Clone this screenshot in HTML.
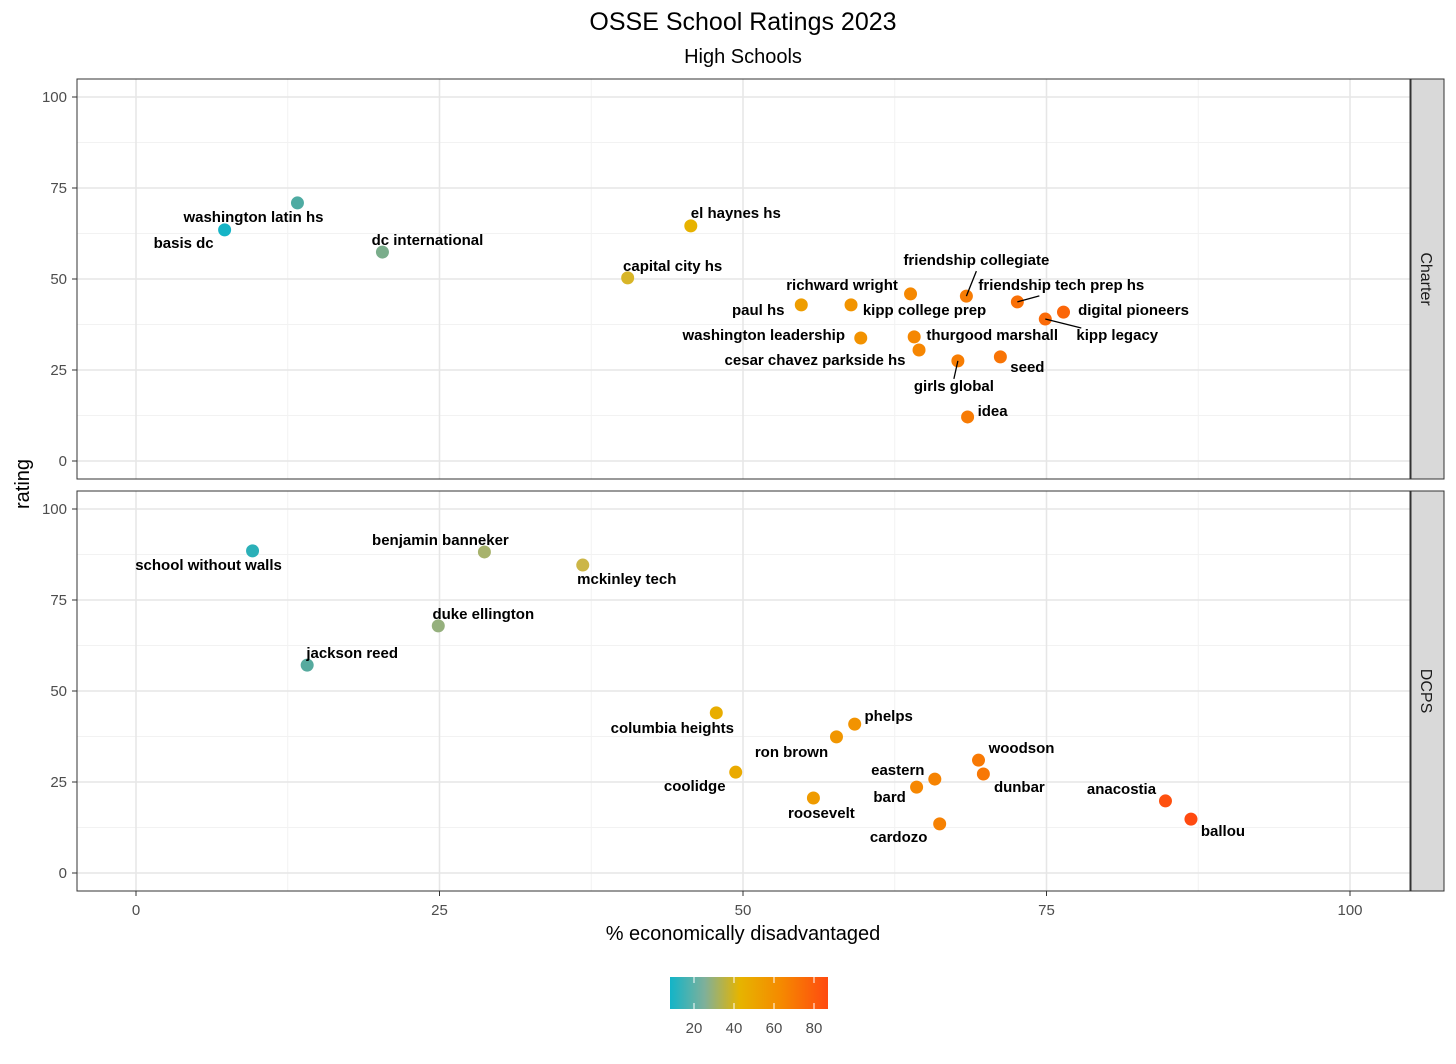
<!DOCTYPE html>
<html><head><meta charset="utf-8">
<style>
body{margin:0;background:#fff;}
svg text{font-family:"Liberation Sans",Arial,sans-serif;}
</style></head>
<body>
<svg id="chart" width="1456" height="1059" viewBox="0 0 1456 1059" xmlns="http://www.w3.org/2000/svg">
<defs>
<linearGradient id="cg" x1="0" x2="1" y1="0" y2="0">
<stop offset="0" stop-color="#12b4c8"/>
<stop offset="0.22" stop-color="#7fb09a"/>
<stop offset="0.44" stop-color="#e6b400"/>
<stop offset="0.7" stop-color="#f58a00"/>
<stop offset="1" stop-color="#ff4a10"/>
</linearGradient>
</defs>
<text x="743" y="30" text-anchor="middle" font-size="25" fill="#000">OSSE School Ratings 2023</text>
<text x="743" y="63" text-anchor="middle" font-size="20" fill="#000">High Schools</text>
<text x="743" y="940" text-anchor="middle" font-size="20" fill="#000">% economically disadvantaged</text>
<text transform="translate(29,484) rotate(-90)" text-anchor="middle" font-size="20" fill="#000">rating</text>
<g id="panels"></g>
<rect x="670" y="977" width="158" height="32" fill="url(#cg)"/>
<g id="cbticks"></g>
</svg>
<script>
const xTicks=[0,25,50,75,100];
const yTicks=[0,25,50,75,100];
const charterNames=["basis dc","washington latin hs","dc international","el haynes hs","capital city hs","paul hs","richward wright","kipp college prep","washington leadership","thurgood marshall","cesar chavez parkside hs","friendship collegiate","friendship tech prep hs","digital pioneers","kipp legacy","girls global","seed","idea"];
const charterX=[7.3,13.3,20.3,45.7,40.5,54.8,58.9,63.8,59.7,64.1,64.5,68.4,72.6,76.4,74.9,67.7,71.2,68.5];
const charterY=[63.5,70.9,57.4,64.6,50.3,42.9,42.9,45.9,33.8,34.1,30.5,45.3,43.7,40.9,39.0,27.5,28.6,12.1];
const dcpsNames=["school without walls","benjamin banneker","mckinley tech","duke ellington","jackson reed","columbia heights","phelps","ron brown","coolidge","eastern","bard","roosevelt","woodson","dunbar","cardozo","anacostia","ballou"];
const dcpsX=[9.6,28.7,36.8,24.9,14.1,47.8,59.2,57.7,49.4,65.8,64.3,55.8,69.4,69.8,66.2,84.8,86.9];
const dcpsY=[88.5,88.2,84.6,67.9,57.1,44.0,40.9,37.4,27.7,25.8,23.6,20.6,31.0,27.2,13.5,19.8,14.8];
const cbTicks=[20,40,60,80];
// label offsets (layout, px) and leader-line flags
const charterDX=[-41,-44,45,45,45,-43,-9,14,-97,78,-104,10,44,70,72,-4,27,25];
const charterDY=[13,14,-12,-13,-12,5,-20,16,-3,-2,10,-36,-17,-2,16,25,10,-6];
const charterSeg=[0,0,0,0,0,0,0,0,0,0,0,1,1,0,1,1,0,0];
const dcpsDX=[-44,-44,44,45,45,-44,34,-45,-41,-37,-27,8,43,36,-41,-44,32];
const dcpsDY=[14,-12,14,-12,-12,15,-8,15,14,-9,10,15,-12,13,13,-12,12];

const NS="http://www.w3.org/2000/svg";
const PX0=77,PX1=1410;
const sx=v=>136+v*12.14;
function mk(tag,attrs,parent){const e=document.createElementNS(NS,tag);for(const k in attrs)e.setAttribute(k,attrs[k]);parent.appendChild(e);return e;}
function colorOf(v){
  const stops=[[7,[18,180,200]],[14,[85,170,158]],[25,[150,176,125]],[37,[205,182,70]],[45,[230,180,0]],[63,[245,138,0]],[87,[255,74,16]]];
  if(v<=stops[0][0])return `rgb(${stops[0][1]})`;
  for(let i=1;i<stops.length;i++){if(v<=stops[i][0]){const a=stops[i-1],b=stops[i];const t=(v-a[0])/(b[0]-a[0]);const c=a[1].map((x,j)=>Math.round(x+(b[1][j]-x)*t));return `rgb(${c})`;}}
  return `rgb(${stops[stops.length-1][1]})`;
}
const panels=document.getElementById('panels');
function panel(top,name,strip,names,xs,ys,dxs,dys,segs){
  const g=mk('g',{},panels);
  
  
  const y0=top+18,sy=v=>y0+364-v*3.64;
  mk('rect',{x:PX0,y:top,width:PX1-PX0,height:400,fill:'#fff'},g);
  for(let v=12.5;v<100;v+=25){mk('line',{x1:sx(v),x2:sx(v),y1:top,y2:top+400,stroke:'#f2f2f2','stroke-width':1},g);mk('line',{x1:PX0,x2:PX1,y1:sy(v),y2:sy(v),stroke:'#f2f2f2','stroke-width':1},g);}
  xTicks.forEach(v=>mk('line',{x1:sx(v),x2:sx(v),y1:top,y2:top+400,stroke:'#e6e6e6','stroke-width':1.5},g));
  yTicks.forEach(v=>{mk('line',{x1:PX0,x2:PX1,y1:sy(v),y2:sy(v),stroke:'#e6e6e6','stroke-width':1.5},g);
    const t=mk('text',{x:67,y:sy(v)+5,'text-anchor':'end','font-size':15,fill:'#4d4d4d'},g);t.textContent=v;
    
    mk('line',{x1:72,x2:77,y1:sy(v),y2:sy(v),stroke:'#333'},g);});
  mk('rect',{x:PX0,y:top,width:PX1-PX0,height:400,fill:'none',stroke:'#333','stroke-width':1},g);
  const s=mk('rect',{x:1411,y:top,width:33,height:400,fill:'#d9d9d9',stroke:'#333','stroke-width':1},g);
  
  const st=mk('text',{transform:`translate(1421,${top+200}) rotate(90)`,'text-anchor':'middle','font-size':16,fill:'#1a1a1a'},g);st.textContent=strip;
  
  names.forEach((n,i)=>{
    const cx=sx(xs[i]),cy=sy(ys[i]);
    const c=mk('circle',{cx:cx,cy:cy,r:6.5,fill:colorOf(xs[i])},g);
    
    
    const lx=cx+dxs[i],ly=cy+dys[i]+5;
    if(segs&&segs[i]){mk('line',{x1:cx,y1:cy,x2:lx+(dxs[i]>30?-dxs[i]*0.5:0),y2:ly+(dys[i]<0?6:-12),stroke:'#000','stroke-width':1.3},g);}
    const t=mk('text',{x:lx,y:ly,'text-anchor':'middle','font-size':15,'font-weight':'bold',fill:'#000'},g);
    t.textContent=n;
    
    
  });
}
panel(79,'charter','Charter',charterNames,charterX,charterY,charterDX,charterDY,charterSeg);
panel(491,'dcps','DCPS',dcpsNames,dcpsX,dcpsY,dcpsDX,dcpsDY,null);
xTicks.forEach(v=>{
  mk('line',{x1:sx(v),x2:sx(v),y1:891,y2:896,stroke:'#333'},panels);
  const t=mk('text',{x:sx(v),y:915,'text-anchor':'middle','font-size':15,fill:'#4d4d4d'},panels);t.textContent=v;
  
});
const cb=document.getElementById('cbticks');
cbTicks.forEach(v=>{
  const x=670+(v-8)*2;
  mk('line',{x1:x,x2:x,y1:977,y2:983,stroke:'#fff'},cb);
  mk('line',{x1:x,x2:x,y1:1003,y2:1009,stroke:'#fff'},cb);
  const t=mk('text',{x:x,y:1033,'text-anchor':'middle','font-size':15,fill:'#4d4d4d'},cb);t.textContent=v;
  
});
</script>
</body></html>
